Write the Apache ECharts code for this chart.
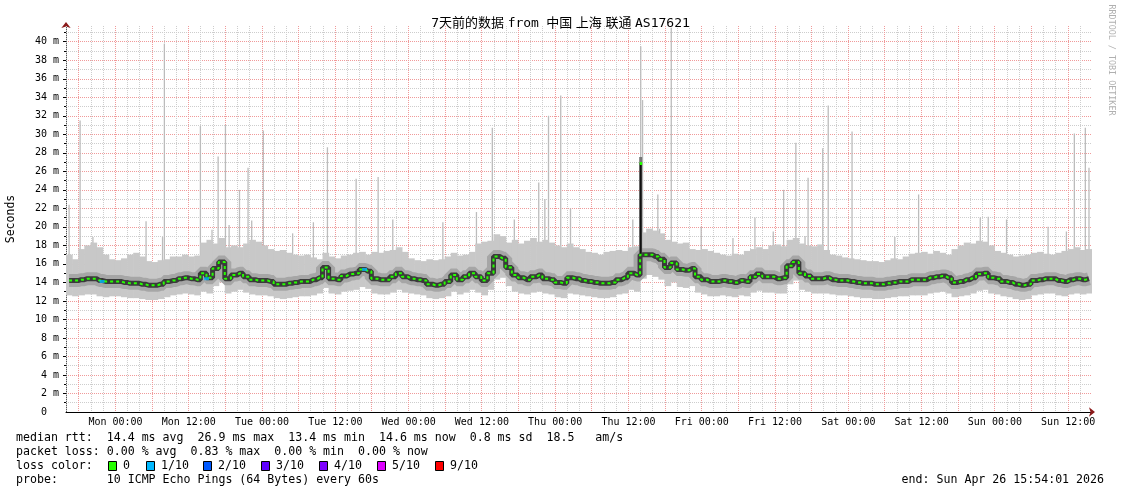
<!DOCTYPE html>
<html><head><meta charset="utf-8">
<script src="https://cdn.jsdelivr.net/npm/echarts@6/dist/echarts.min.js"></script>
<style>html,body{margin:0;padding:0;background:#fff}#c{width:1121px;height:494px}</style>
</head><body><div id="c"></div>
<script>
// ---- data (hours counted from Sun Apr 19 00:00) ----
const START_HOUR = 15.9;   // Sun 15:54:01
const END_HOUR = 183.9;    // Sun Apr 26 15:54:01
const xTickHours = [24,36,48,60,72,84,96,108,120,132,144,156,168,180];
const xTickLabels = ['Mon 00:00','Mon 12:00','Tue 00:00','Tue 12:00','Wed 00:00','Wed 12:00','Thu 00:00','Thu 12:00','Fri 00:00','Fri 12:00','Sat 00:00','Sat 12:00','Sun 00:00','Sun 12:00'];
const yTickValues = [0,2,4,6,8,10,12,14,16,18,20,22,24,26,28,30,32,34,36,38,40];
const yTickLabels = ['0  ','2 m','4 m','6 m','8 m','10 m','12 m','14 m','16 m','18 m','20 m','22 m','24 m','26 m','28 m','30 m','32 m','34 m','36 m','38 m','40 m'];

// hourly median rtt (ms)
const median = [
14.2,14.2,14.3,14.4,14.4,14.2,14.1,14.1,14.1,14.0,
13.9,13.9,13.8,13.7,13.7,13.8,14.1,14.2,14.4,14.5,
14.4,14.3,15.0,14.5,15.5,16.2,14.4,14.8,15.0,14.6,
14.3,14.2,14.2,14.1,13.8,13.8,13.9,14.0,14.1,14.1,
14.3,14.5,15.6,14.4,14.3,14.7,14.9,15.0,15.4,15.2,
14.4,14.3,14.3,14.6,15.0,14.6,14.4,14.3,14.2,13.8,
13.7,13.8,14.1,14.8,14.3,14.6,15.0,14.6,14.2,15.0,
16.8,16.6,15.6,14.8,14.5,14.3,14.6,14.8,14.4,14.3,
14.0,13.9,14.5,14.4,14.2,14.1,14.0,13.9,13.9,14.0,
14.3,14.5,15.0,14.8,17.0,17.0,16.8,16.5,15.6,16.1,
15.4,15.3,15.5,14.6,14.3,14.1,14.1,14.2,14.1,14.0,
14.2,14.1,14.6,14.9,14.6,14.6,14.4,14.5,15.8,16.2,
15.0,14.7,14.4,14.4,14.5,14.3,14.2,14.2,14.1,14.0,
13.9,13.9,13.8,13.8,13.9,14.0,14.1,14.1,14.3,14.3,
14.3,14.5,14.6,14.7,14.5,14.0,14.1,14.3,14.5,14.9,
15.0,14.5,14.4,14.1,14.0,13.8,13.7,13.8,14.2,14.3,
14.4,14.4,14.2,14.1,14.3,14.4,14.3,14.4];
const medianSpike = [[110.0, 26.9]];

// hourly lower edge of the smoke (fastest ping)
const smokeLow = [
12.6,12.5,12.6,12.7,12.7,12.5,12.4,12.5,12.5,12.4,
12.3,12.3,12.2,12.1,12.1,12.2,12.4,12.6,12.7,12.8,
12.7,12.6,13.0,12.8,13.6,14.0,12.8,13.0,13.2,12.9,
12.7,12.6,12.6,12.5,12.3,12.2,12.3,12.4,12.5,12.5,
12.6,12.8,13.4,12.8,12.7,13.0,13.1,13.2,13.5,13.3,
12.8,12.7,12.7,12.9,13.2,12.9,12.8,12.7,12.6,12.3,
12.2,12.3,12.5,13.0,12.7,12.9,13.2,12.9,12.6,13.2,
14.3,14.5,13.6,13.0,12.8,12.7,12.9,13.0,12.8,12.7,
12.4,12.3,12.8,12.7,12.6,12.5,12.4,12.3,12.3,12.4,
12.7,12.8,13.2,13.0,14.4,14.8,14.6,14.3,13.6,14.0,
13.5,13.4,13.6,12.9,12.7,12.5,12.5,12.6,12.5,12.4,
12.6,12.5,12.9,13.1,12.9,12.9,12.8,12.8,13.8,14.2,
13.2,13.0,12.8,12.8,12.8,12.7,12.6,12.6,12.5,12.4,
12.3,12.3,12.2,12.2,12.3,12.4,12.5,12.5,12.6,12.6,
12.6,12.8,12.9,13.0,12.8,12.4,12.5,12.6,12.8,13.1,
13.2,12.8,12.7,12.5,12.4,12.2,12.1,12.2,12.6,12.7,
12.8,12.8,12.6,12.5,12.7,12.8,12.7,12.8];

// hourly typical upper edge of the smoke
const smokeHigh = [
17.0,16.5,17.6,18.0,18.3,17.8,17.0,16.5,16.4,16.6,
17.0,17.2,16.8,16.3,16.2,16.4,16.5,16.8,16.8,17.0,
16.8,16.9,18.3,18.6,18.2,18.8,17.8,18.0,17.8,18.2,
18.6,18.4,18.0,17.6,17.4,17.5,17.2,17.0,16.9,17.0,
16.7,16.5,17.2,16.8,16.6,16.9,17.0,17.2,17.3,17.0,
17.3,17.2,17.4,17.5,17.8,17.3,16.6,16.4,16.3,16.5,
16.4,16.5,16.8,17.2,16.9,17.0,17.3,18.2,18.4,18.5,
19.2,19.0,18.3,18.6,18.2,18.5,18.8,18.4,18.6,18.3,
18.0,17.8,18.2,17.8,17.6,17.3,17.2,17.0,17.3,17.4,
17.5,17.4,17.8,17.9,19.4,19.8,19.6,19.3,18.6,18.4,
18.2,18.3,17.6,17.5,17.6,17.4,17.2,17.0,16.9,17.1,
17.0,17.4,17.6,17.8,17.6,18.0,18.1,17.9,18.6,18.8,
18.2,18.0,17.9,18.1,17.5,17.0,16.9,16.7,16.6,16.5,
16.4,16.3,16.3,16.2,16.4,16.6,16.5,16.8,17.1,17.2,
17.3,17.1,17.4,17.2,17.0,17.6,18.0,18.3,18.2,18.5,
18.4,18.0,17.4,17.2,17.0,16.8,16.9,17.0,17.2,17.3,
17.1,17.0,17.2,17.4,17.6,17.8,17.5,17.6];

// single slow pings [hour, ms]
const spikes = [
[16.4,22.4],[18.2,31.5],[20.3,18.9],[29.0,20.6],[31.7,18.9],[32.0,39.8],[37.9,30.9],[39.8,19.7],
[40.8,27.6],[42.0,31.0],[42.6,20.2],[44.3,24.0],[45.7,26.4],[46.3,20.7],[48.2,30.4],[53.0,19.3],
[56.4,20.5],[58.7,28.6],[63.4,25.2],[67.0,25.4],[69.4,20.8],[77.6,20.5],[83.1,21.6],[85.7,30.7],
[89.3,20.8],[93.3,24.8],[94.3,23.0],[94.9,32.0],[96.9,34.2],[98.5,22.0],[108.7,20.8],[110.0,39.5],
[110.3,33.7],[112.8,23.5],[113.1,19.8],[115.0,41.5],[119.9,20.0],[125.1,18.8],[128.7,21.0],[131.7,19.5],
[133.4,24.0],[135.4,29.1],[136.9,19.0],[137.4,25.3],[139.8,28.5],[140.7,33.1],[144.6,30.3],[151.6,18.9],
[155.5,23.5],[165.6,21.0],[166.9,21.1],[169.9,20.8],[176.7,20.0],[179.7,19.5],[181.0,30.1],[182.8,30.7],
[183.4,26.4]];

// medians drawn with 1/10 loss colour [hour, ms]
const lossPoints = [[21.8,14.1],[38.9,14.4],[64.8,15.4]];

const lossLabels = ['0','1/10','2/10','3/10','4/10','5/10','9/10'];
const lossColors = ['#26ff00','#00b8ff','#0059ff','#5e00ff','#7e00ff','#dd00ff','#ff0000'];

const titleText = '7天前的数据 from  中国 上海 联通 AS17621';
const statsLines = [
  'median rtt:  14.4 ms avg  26.9 ms max  13.4 ms min  14.6 ms now  0.8 ms sd  18.5   am/s',
  'packet loss: 0.00 % avg  0.83 % max  0.00 % min  0.00 % now',
  'loss color:',
  'probe:       10 ICMP Echo Pings (64 Bytes) every 60s'
];
const endText = 'end: Sun Apr 26 15:54:01 2026';
const yTitle = 'Seconds';
const sideText = 'RRDTOOL / TOBI OETIKER';

// ---- build ----
const MONO = "'DejaVu Sans Mono', monospace";
const hourX = i => START_HOUR + i + 0.5;
const bandData = median.map((m, i) => [hourX(i), smokeLow[i], smokeHigh[i]]);
const medData = median.map((m, i) => [hourX(i), m]);
const medSpikeData = medianSpike.map(p => [p[0], p[1], median[Math.floor(p[0] - START_HOUR)]]);

// vertical grid every 2 h, major (red) every 6 h
const vGrid = []; for (let h = 16; h <= 182; h += 2) vGrid.push([h, h % 6 === 0 ? 1 : 0]);
const majorY = yTickValues.filter(v => v > 0);
const minorY = []; for (let v = 1; v <= 41; v += 2) minorY.push(v);

const RED_GRID = '#f09a9a', GRAY_GRID = '#cdcdcd';
const chart = echarts.init(document.getElementById('c'));

const titleRich = titleText.split(/( +)/).filter(s => s.length).map(s => /^ +$/.test(s) ? '{s|' + s + '}' : '{t|' + s + '}').join('');

const lineY = [438, 452, 466, 480];
const graphics = [];
statsLines.forEach((t, i) => graphics.push({type:'text', x:16, y:lineY[i], style:{text:t, font:'11.6px ' + MONO, fill:'#000', verticalAlign:'middle'}}));
const lossBoxX = [108, 146, 203, 261, 319, 377, 435];
lossLabels.forEach((lab, i) => {
  graphics.push({type:'rect', shape:{x:lossBoxX[i] + 0.5, y:461.5, width:8, height:9}, style:{fill:lossColors[i], stroke:'#000', lineWidth:1}});
  graphics.push({type:'text', x:lossBoxX[i] + 15, y:lineY[2], style:{text:lab, font:'11.6px ' + MONO, fill:'#000', verticalAlign:'middle'}});
});
graphics.push({type:'text', x:1104, y:lineY[3], style:{text:endText, font:'11.6px ' + MONO, fill:'#000', align:'right', verticalAlign:'middle'}});
graphics.push({type:'text', x:11, y:219, rotation:Math.PI/2, style:{text:yTitle, font:'11.5px ' + MONO, fill:'#000', align:'center', verticalAlign:'middle'}});
graphics.push({type:'text', x:1111, y:60, rotation:-Math.PI/2, style:{text:sideText, font:'8.4px ' + MONO, fill:'#b0b0b0', align:'center', verticalAlign:'middle'}});

chart.setOption({
  animation: false,
  backgroundColor: '#fff',
  title: {text: titleRich, left: 'center', top: 12,
    textStyle: {fontWeight: 'normal', rich: {
      t: {fontFamily: "'DejaVu Sans Mono','Noto Sans CJK SC',monospace", fontSize: 13, fontWeight: 'normal', color: '#000'},
      s: {fontFamily: "'DejaVu Sans Mono',monospace", fontSize: 6, fontWeight: 'normal', color: '#000'}
    }}},
  grid: {left: 66, right: 29, top: 26, bottom: 82},
  xAxis: [
    {type:'value', min:START_HOUR, max:END_HOUR, position:'bottom',
     axisLine:{show:true, lineStyle:{color:'#000', width:1}},
     axisTick:{show:false},
     axisLabel:{show:true, customValues:xTickHours, formatter: v => xTickLabels[xTickHours.indexOf(v)], fontFamily:MONO, fontSize:10, color:'#000', margin:5},
     splitLine:{show:false}},
    {type:'value', min:START_HOUR, max:END_HOUR, position:'bottom',
     axisLine:{show:true, symbol:['none','arrow'], symbolSize:[7,6], symbolOffset:[0,3], lineStyle:{color:'#8b1a1a', width:0}},
     axisTick:{show:false}, axisLabel:{show:false}, splitLine:{show:false}}
  ],
  yAxis: [
    {type:'value', min:0, max:41.7, position:'left',
     axisLine:{show:true, lineStyle:{color:'#555', width:1}},
     axisTick:{show:true, customValues:majorY, length:3, lineStyle:{color:'#000'}},
     axisLabel:{show:true, customValues:yTickValues, formatter: v => yTickLabels[yTickValues.indexOf(v)], fontFamily:MONO, fontSize:10, color:'#000', margin:7},
     splitLine:{show:true, lineStyle:{color:RED_GRID, width:1, type:[1,1]}}},
    {type:'value', min:0, max:41.7, position:'left',
     axisLine:{show:true, symbol:['none','arrow'], symbolSize:[7,6], symbolOffset:[0,4], lineStyle:{color:'#8b1a1a', width:0}},
     axisTick:{show:true, customValues:minorY, length:2, lineStyle:{color:'#000'}},
     axisLabel:{show:false},
     splitLine:{show:true, lineStyle:{color:GRAY_GRID, width:1, type:[1,1]}}}
  ],
  graphic: graphics,
  series: [
    {type:'custom', name:'vgrid', xAxisIndex:0, yAxisIndex:0, silent:true, z:1,
     data: vGrid,
     renderItem: (params, api) => {
       const cs = params.coordSys;
       const x = Math.floor(api.coord([api.value(0), 0])[0]) + 0.5;
       return {type:'line', shape:{x1:x, y1:cs.y, x2:x, y2:cs.y + cs.height},
               style:{stroke: api.value(1) ? RED_GRID : GRAY_GRID, lineWidth:1, lineDash:[1,1]}};
     }},
    {type:'custom', name:'spikes', xAxisIndex:0, yAxisIndex:0, clip:true, silent:true, z:2,
     data: spikes,
     renderItem: (params, api) => {
       const top = api.coord([api.value(0), api.value(1)]);
       const base = api.coord([api.value(0), 15]);
       return {type:'rect', shape:{x:top[0] - 0.6, y:top[1], width:1.3, height:base[1] - top[1]}, style:{fill:'#bcbcbc'}};
     }},
    {type:'custom', name:'smoke', xAxisIndex:0, yAxisIndex:0, clip:true, silent:true, z:3,
     data: bandData,
     renderItem: (params, api) => {
       const x = api.value(0);
       const p0 = api.coord([x - 0.5, api.value(2)]);
       const p1 = api.coord([x + 0.5, api.value(1)]);
       return {type:'rect', shape:{x:p0[0], y:p0[1], width:p1[0] - p0[0] + 0.6, height:p1[1] - p0[1]}, style:{fill:'#c8c8c8'}};
     }},
    {type:'line', name:'smoke mid', data: medData, step:'middle', showSymbol:false, silent:true, z:4,
     lineStyle:{color:'#a6a6a6', width:13}},
    {type:'line', name:'smoke core', data: medData, step:'middle', showSymbol:false, silent:true, z:5,
     lineStyle:{color:'#3a3a3a', width:5}},
    {type:'custom', name:'median spike', xAxisIndex:0, yAxisIndex:0, clip:true, silent:true, z:6,
     data: medSpikeData,
     renderItem: (params, api) => {
       const top = api.coord([api.value(0), api.value(1)]);
       const base = api.coord([api.value(0), api.value(2)]);
       return {type:'group', children:[
         {type:'rect', shape:{x:top[0] - 1.5, y:top[1] - 6, width:3, height:base[1] - top[1] + 6}, style:{fill:'#777'}},
         {type:'rect', shape:{x:top[0] - 1, y:top[1], width:2, height:base[1] - top[1]}, style:{fill:'#111'}},
         {type:'rect', shape:{x:top[0] - 1, y:top[1] - 1, width:2.5, height:3}, style:{fill:'#26ff00'}}
       ]};
     }},
    {type:'line', name:'median', data: medData, step:'middle', showSymbol:false, silent:true, z:7,
     lineStyle:{color:'#26ff00', width:2, type:[3,3]}},
    {type:'scatter', name:'loss 1/10', data: lossPoints, symbol:'rect', symbolSize:[5,3], silent:true, z:8,
     itemStyle:{color:'#00b8ff'}}
  ]
});
</script>
</body></html>
